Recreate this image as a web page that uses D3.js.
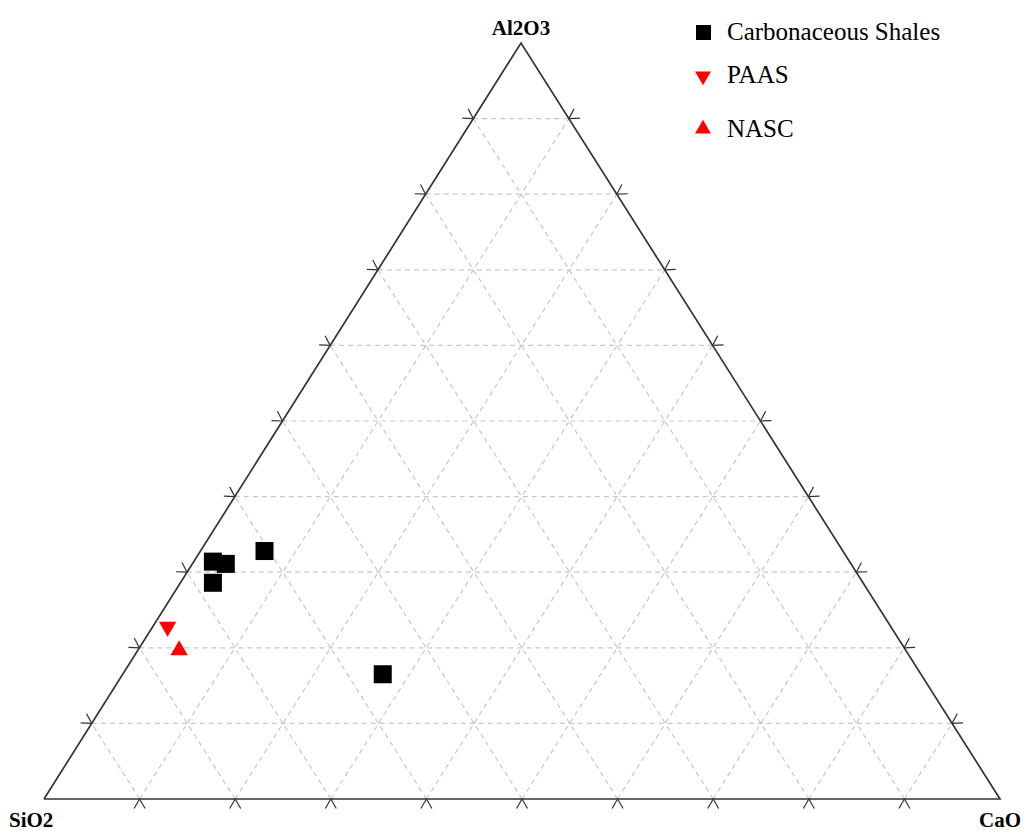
<!DOCTYPE html><html><head><meta charset="UTF-8"><script src="https://d3js.org/d3.v7.min.js"></script><style>
  body { margin: 0; background: #fff; }
  .grid { stroke: #c8c8c8; stroke-width: 1.2; stroke-dasharray: 5,4; fill: none; }
  .edge { stroke: #333; stroke-width: 1.7; fill: none; }
  .tick { stroke: #333; stroke-width: 1.2; }
  .vlabel { font-family: "Liberation Serif", serif; font-weight: bold; font-size: 21px; }
  .legend text { font-family: "Liberation Serif", serif; font-size: 25px; }
</style></head><body><div id="chart"></div><script>
// compositions in % (SiO2, Al2O3, CaO)
const shaleSiO2  = [60.5, 66.6, 65.4, 68.0, 56.3];
const shaleAl2O3 = [32.8, 31.4, 31.1, 28.6, 16.5];
const shaleCaO   = [ 6.7,  2.0,  3.5,  3.4, 27.2];
const paas = {SiO2: 62.8, Al2O3: 18.9, CaO: 1.3};
const nasc = {SiO2: 64.8, Al2O3: 16.9, CaO: 3.63};
const gridSteps = d3.range(10, 100, 10);
const legendLabels = ["Carbonaceous Shales", "PAAS", "NASC"];

const W = 1029, H = 834;
const vLeft = [44, 799], vRight = [1000, 799], vTop = [521, 43];

const svg = d3.select('#chart').append('svg')
  .attr('width', W).attr('height', H);

// a = Al2O3 fraction drives height, c = CaO fraction shifts along base
const yScale = d3.scaleLinear().domain([0, 1]).range([vLeft[1], vTop[1]]);
const cScale = d3.scaleLinear().domain([0, 1]).range([0, vRight[0] - vLeft[0]]);
const aShift = d3.scaleLinear().domain([0, 1]).range([0, vTop[0] - vLeft[0]]);

function proj(s, a, c) {
  const t = s + a + c;
  s /= t; a /= t; c /= t;
  return [vLeft[0] + cScale(c) + aShift(a), yScale(a)];
}
// point on an edge between two vertices
const lerp = (p, q, f) => [p[0] + (q[0] - p[0]) * f, p[1] + (q[1] - p[1]) * f];

// grid lines
const g = svg.append('g');
gridSteps.forEach(v => {
  const f = v / 100;
  // constant Al2O3
  g.append('line').attr('class', 'grid')
    .datum([lerp(vLeft, vTop, f), lerp(vRight, vTop, f)]);
  // constant CaO
  g.append('line').attr('class', 'grid')
    .datum([lerp(vLeft, vRight, f), lerp(vTop, vRight, f)]);
  // constant SiO2
  g.append('line').attr('class', 'grid')
    .datum([lerp(vRight, vLeft, f), lerp(vTop, vLeft, f)]);
});
g.selectAll('line')
  .attr('x1', d => d[0][0]).attr('y1', d => d[0][1])
  .attr('x2', d => d[1][0]).attr('y2', d => d[1][1]);

// triangle edges
svg.append('path').attr('class', 'edge')
  .attr('d', d3.line()([vLeft, vRight, vTop, vLeft]));

// tick marks: small chevrons pointing out of each edge
const centroid = [(vLeft[0] + vRight[0] + vTop[0]) / 3, (vLeft[1] + vRight[1] + vTop[1]) / 3];
function ticks(p, q) {
  const dx = q[0] - p[0], dy = q[1] - p[1], len = Math.hypot(dx, dy);
  let nx = -dy / len, ny = dx / len;
  const mid = lerp(p, q, 0.5);
  if ((centroid[0] - mid[0]) * nx + (centroid[1] - mid[1]) * ny > 0) { nx = -nx; ny = -ny; }
  const L = 11, ang = Math.PI / 6;
  gridSteps.forEach(v => {
    const pt = lerp(p, q, v / 100);
    [-ang, ang].forEach(an => {
      const rx = nx * Math.cos(an) - ny * Math.sin(an);
      const ry = nx * Math.sin(an) + ny * Math.cos(an);
      svg.append('line').attr('class', 'tick')
        .attr('x1', pt[0]).attr('y1', pt[1])
        .attr('x2', pt[0] + rx * L).attr('y2', pt[1] + ry * L);
    });
  });
}
ticks(vLeft, vRight); ticks(vRight, vTop); ticks(vTop, vLeft);

// vertex labels
svg.append('text').attr('class', 'vlabel').attr('x', vTop[0]).attr('y', 35)
  .attr('text-anchor', 'middle').text('Al2O3');
svg.append('text').attr('class', 'vlabel').attr('x', 9).attr('y', 827).text('SiO2');
svg.append('text').attr('class', 'vlabel').attr('x', 1021).attr('y', 827)
  .attr('text-anchor', 'end').text('CaO');

// data
const shales = shaleSiO2.map((s, i) => proj(s, shaleAl2O3[i], shaleCaO[i]));
svg.append('g').selectAll('rect').data(shales).enter().append('rect')
  .attr('x', d => d[0] - 9).attr('y', d => d[1] - 9)
  .attr('width', 18).attr('height', 18).attr('fill', '#000');

const tri = d3.symbol().type(d3.symbolTriangle).size(130);
const pP = proj(paas.SiO2, paas.Al2O3, paas.CaO);
const pN = proj(nasc.SiO2, nasc.Al2O3, nasc.CaO);
svg.append('path').attr('d', tri).attr('fill', 'red')
  .attr('transform', `translate(${pP[0]},${pP[1]}) rotate(180)`);
svg.append('path').attr('d', tri).attr('fill', 'red')
  .attr('transform', `translate(${pN[0]},${pN[1] + 1})`);

// legend
const leg = svg.append('g').attr('class', 'legend');
const legY = [32, 75, 129];
leg.append('rect').attr('x', 696).attr('y', legY[0] - 7).attr('width', 15).attr('height', 15).attr('fill', '#000');
const tri2 = d3.symbol().type(d3.symbolTriangle).size(110);
leg.append('path').attr('d', tri2).attr('fill', 'red')
  .attr('transform', `translate(703,${legY[1] + 1}) rotate(180)`);
leg.append('path').attr('d', tri2).attr('fill', 'red')
  .attr('transform', `translate(703,${legY[2]})`);
legendLabels.forEach((t, i) => {
  leg.append('text').attr('x', 727).attr('y', legY[i] + 8).text(t);
});
</script></body></html>
